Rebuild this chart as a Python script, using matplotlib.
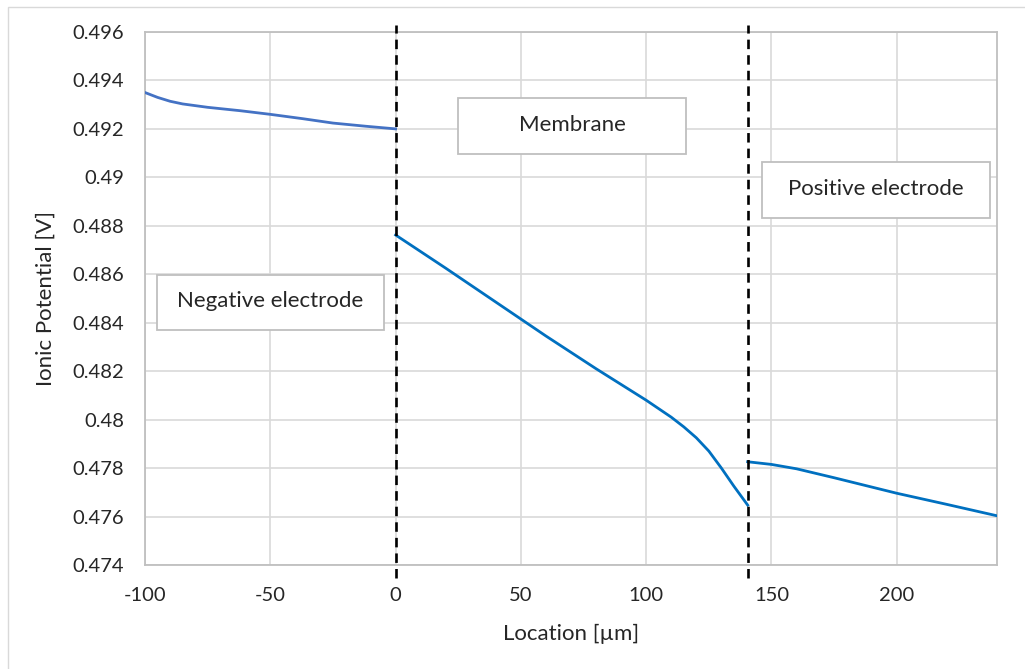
#!/usr/bin/env python3
"""Ionic potential through the cell: negative electrode, membrane, positive electrode."""

import matplotlib
matplotlib.use('Agg')
import matplotlib.pyplot as plt
from matplotlib.patches import Rectangle
import matplotlib.transforms as mtransforms

# negative electrode
x_neg = [-100, -95, -90, -85, -75, -62, -50, -37, -25, -12, 0]
y_neg = [0.49350, 0.49330, 0.49314, 0.49303, 0.49289, 0.49275, 0.49260, 0.49242, 0.49224, 0.49211, 0.49200]

# membrane
x_mem = [0, 20, 40, 60, 80, 100, 110, 115, 120, 125, 130, 135, 140.5]
y_mem = [0.48762, 0.48625, 0.48485, 0.48345, 0.48210, 0.48080, 0.48010, 0.47970, 0.47925, 0.47870, 0.47800, 0.47725, 0.47647]

# positive electrode
x_pos = [140.5, 150, 160, 175, 200, 220, 240]
y_pos = [0.47826, 0.47815, 0.47797, 0.47760, 0.47696, 0.47650, 0.47603]

boundaries = [0, 140.5]

xticks = [-100, -50, 0, 50, 100, 150, 200]
yticks = [0.474, 0.476, 0.478, 0.48, 0.482, 0.484, 0.486, 0.488, 0.49, 0.492, 0.494, 0.496]
ytick_labels = ['0.474', '0.476', '0.478', '0.48', '0.482', '0.484', '0.486',
                '0.488', '0.49', '0.492', '0.494', '0.496']

regions = ['Membrane', 'Negative electrode', 'Positive electrode']

plt.rcParams['font.family'] = ['Lato', 'DejaVu Sans']
plt.rcParams['axes.unicode_minus'] = False

fig = plt.figure(figsize=(10.25, 6.69), dpi=100)
ax = fig.add_axes([0.1415, 0.1555, 0.8312, 0.7967])

# chart area border
fig.patches.append(Rectangle((8 / 1025, -0.1), 1.1, 1 - 7 / 669 + 0.1,
                             transform=fig.transFigure, fill=False,
                             edgecolor='#D9D9D9', linewidth=1))

ax.plot(x_neg, y_neg, color='#4472C4', linewidth=2, zorder=3)
ax.plot(x_mem, y_mem, color='#0070C0', linewidth=2, zorder=3)
ax.plot(x_pos, y_pos, color='#0070C0', linewidth=2, zorder=3)

trans = mtransforms.blended_transform_factory(ax.transData, ax.transAxes)
for xb in boundaries:
    ax.plot([xb, xb], [-0.024, 1.013], transform=trans, color='black',
            linewidth=1.9, dashes=(3.6, 2.3), clip_on=False, zorder=4)

ax.set_xlim(-100, 240)
ax.set_ylim(0.474, 0.496)
ax.set_xticks(xticks)
ax.set_yticks(yticks)
ax.set_yticklabels(ytick_labels)
ax.tick_params(length=0, labelsize=14.5, colors='#262626')
ax.tick_params(axis='x', pad=16)
ax.tick_params(axis='y', pad=15)
ax.grid(True, color='#D9D9D9', linewidth=1.2)
ax.set_axisbelow(True)
for s in ax.spines.values():
    s.set_color('#BFBFBF')
    s.set_linewidth(1.3)

ax.set_xlabel('Location [µm]', fontsize=16, color='#262626', labelpad=14)
ax.set_ylabel('Ionic Potential [V]', fontsize=16, color='#262626', labelpad=12)

# region labels in boxes (axes fractions)
boxes = [(0.3674, 0.7711, 0.2676, 0.1051),
         (0.0141, 0.4409, 0.2664, 0.1032),
         (0.7242, 0.6510, 0.2676, 0.1051)]
for label, (bx, by, bw, bh) in zip(regions, boxes):
    ax.add_patch(Rectangle((bx, by), bw, bh, transform=ax.transAxes,
                           facecolor='white', edgecolor='#BFBFBF',
                           linewidth=1.3, zorder=5))
    ax.text(bx + bw / 2, by + bh / 2 + 0.002, label, transform=ax.transAxes,
            ha='center', va='center', fontsize=16, color='#262626', zorder=6)

fig.savefig('out.png', dpi=100)
